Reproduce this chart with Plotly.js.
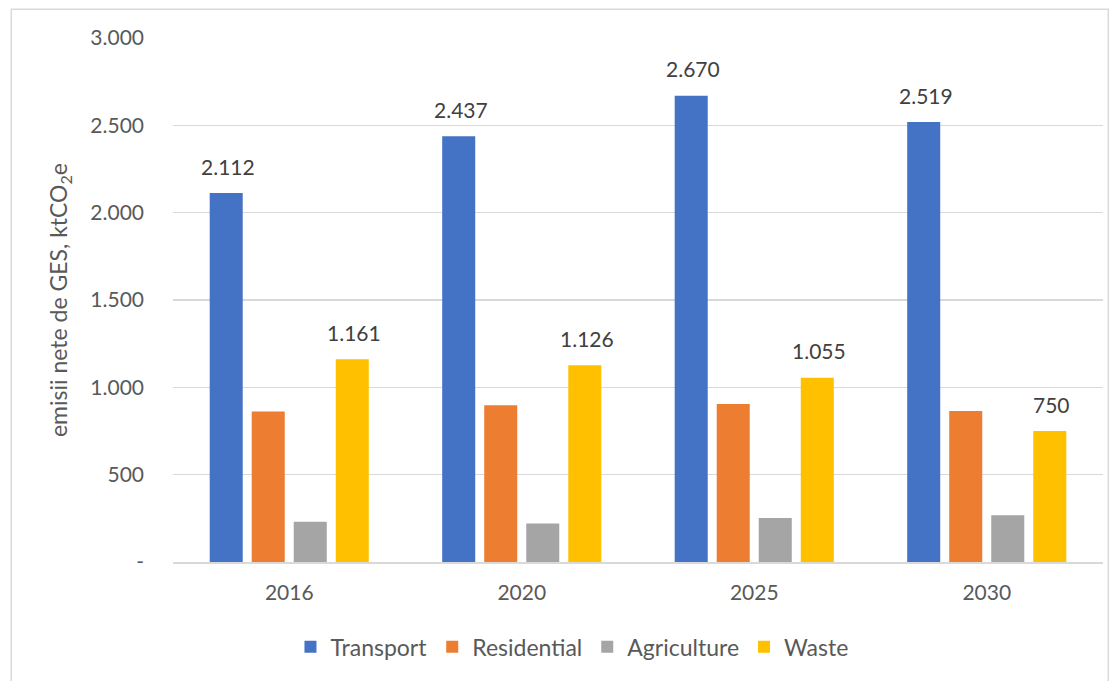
<!DOCTYPE html>
<html>
<head>
<meta charset="utf-8">
<script src="https://cdn.plot.ly/plotly-3.0.1.min.js"></script>
<style>
  html, body { margin: 0; padding: 0; background: #ffffff; }
  #chart { width: 1118px; height: 681px; }
</style>
</head>
<body>
<div id="chart"></div>
<script>
// Net GHG emissions by sector (ktCO2e)
const years = ['2016', '2020', '2025', '2030'];
const transport = [2112, 2437, 2670, 2519];
const residential = [861, 898, 904, 865];
const agriculture = [230, 221, 252, 267];
const waste = [1161, 1126, 1055, 750];

const seriesNames = ['Transport', 'Residential', 'Agriculture', 'Waste'];
const seriesColors = ['#4472C4', '#ED7D31', '#A5A5A5', '#FFC000'];
const seriesValues = [transport, residential, agriculture, waste];
const labelledSeries = [0, 3]; // Transport and Waste carry value labels

const yTickVals = [0, 500, 1000, 1500, 2000, 2500, 3000];
const yTickText = ['-', '500', '1.000', '1.500', '2.000', '2.500', '3.000'];

const FONT = 'Lato, "Open Sans", sans-serif';
const BARGAP = 0.277;
const BARGROUPGAP = 0.214;

// thousands separated with a dot
function fmt(v) {
  return String(Math.round(v)).replace(/\B(?=(\d{3})+(?!\d))/g, '.');
}

const traces = seriesNames.map((name, k) => ({
  type: 'bar',
  name: name,
  x: years,
  y: seriesValues[k],
  marker: { color: seriesColors[k] },
  hoverinfo: 'x+y+name'
}));

// value labels placed over the matching bar in each group
const nSeries = seriesNames.length;
const slot = (1 - BARGAP) / nSeries;
const annotations = [];
labelledSeries.forEach(k => {
  const off = (k - (nSeries - 1) / 2) * slot;
  seriesValues[k].forEach((v, i) => {
    annotations.push({
      xref: 'x', yref: 'y',
      x: i + off, y: v,
      text: fmt(v),
      showarrow: false,
      yanchor: 'middle',
      xanchor: 'center',
      yshift: 27,
      xshift: 2,
      font: { family: FONT, size: 21, color: '#404040' }
    });
  });
});

const layout = {
  width: 1118,
  height: 681,
  margin: { l: 173, r: 15, t: 38, b: 119 },
  paper_bgcolor: '#ffffff',
  plot_bgcolor: '#ffffff',
  barmode: 'group',
  bargap: BARGAP,
  bargroupgap: BARGROUPGAP,
  font: { family: FONT, size: 21, color: '#595959' },
  showlegend: true,
  legend: {
    orientation: 'h',
    x: 0.429, xanchor: 'center',
    y: -0.162, yanchor: 'middle',
    font: { family: FONT, size: 23, color: '#595959' },
    itemclick: false
  },
  xaxis: {
    type: 'category',
    showgrid: false,
    showline: true,
    linecolor: '#d9d9d9',
    linewidth: 2,
    ticks: '',
    ticklabelstandoff: 11,
    tickfont: { family: FONT, size: 21, color: '#595959' },
    fixedrange: true
  },
  yaxis: {
    range: [0, 3000],
    tickmode: 'array',
    tickvals: yTickVals,
    ticktext: yTickText,
    showgrid: true,
    gridcolor: '#d9d9d9',
    gridwidth: 1.5,
    zeroline: false,
    showline: false,
    ticks: '',
    ticklabelstandoff: 28,
    tickfont: { family: FONT, size: 21, color: '#595959' },
    title: {
      text: 'emisii nete de GES, ktCO<sub>2</sub>e',
      font: { family: FONT, size: 23, color: '#595959' },
      standoff: 16
    },
    fixedrange: true
  },
  annotations: annotations,
  shapes: [{
    type: 'rect',
    xref: 'paper', yref: 'paper',
    x0: -0.1739, x1: 1.0057,
    y0: -0.2434, y1: 1.0547,
    line: { color: '#d9d9d9', width: 1.5 },
    fillcolor: 'rgba(0,0,0,0)',
    layer: 'below'
  }]
};

Plotly.newPlot('chart', traces, layout, { displayModeBar: false, staticPlot: true });
</script>
</body>
</html>
